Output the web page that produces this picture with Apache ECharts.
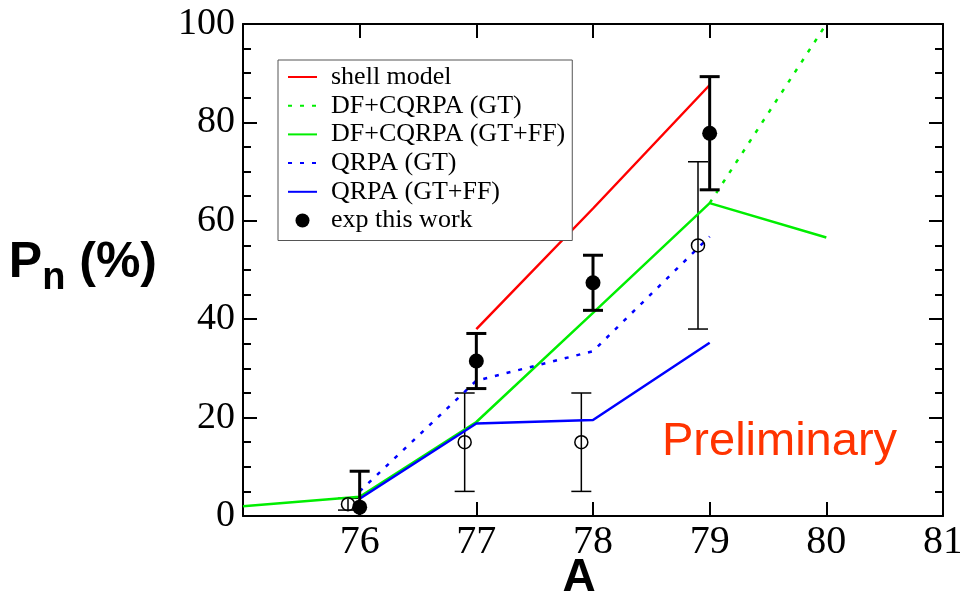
<!DOCTYPE html>
<html>
<head>
<meta charset="utf-8">
<title>Pn vs A</title>
<script src="https://cdn.jsdelivr.net/npm/echarts@6/dist/echarts.min.js"></script>
<style>
  html, body { margin: 0; padding: 0; background: #fff; }
  #chart { width: 960px; height: 593px; }
</style>
</head>
<body>
<div id="chart"></div>
<script>
// Mass numbers where the calculations are given
const massNumbers = [75, 76, 77, 78, 79, 80];

// Calculated neutron emission probabilities Pn (%)
const shellModel  = [null, null, 38.0, 62.5, 87.6, null];
const dfcqrpaGT   = [null, null, null, null, 63.6, 100];
const dfcqrpaGTFF = [2.0, 3.9, 19.1, 41.3, 63.6, 56.6];
const qrpaGT      = [null, 5.0, 27.5, 33.5, 56.8, null];
const qrpaGTFF    = [null, 3.5, 18.8, 19.5, 35.2, null];

// Measured values, this work
const expA   = [76, 77, 78, 79];
const expPn  = [1.8, 31.5, 47.4, 77.8];
const expErr = [7.3, 5.6, 5.6, 11.5];

// Earlier measurements (open circles)
const prevA   = [75.9, 76.9, 77.9, 78.9];
const prevPn  = [2.4, 15.0, 15.0, 55.0];
const prevErr = [1.2, 10.0, 10.0, 17.0];

// Axis ticks
const xTicks = [75, 76, 77, 78, 79, 80, 81];
const yTicks = [0, 20, 40, 60, 80, 100];

function pairs(xs, ys) {
  return xs.map((x, i) => [x, ys[i]]).filter(p => p[1] !== null);
}
function errRows(xs, ys, es) {
  return xs.map((x, i) => [x, ys[i], ys[i] - es[i], ys[i] + es[i]]);
}
function errorBarRenderer(width) {
  return function (params, api) {
    const x = api.value(0);
    const lo = api.coord([x, api.value(2)]);
    const hi = api.coord([x, api.value(3)]);
    const half = 10;
    const style = { stroke: '#000', lineWidth: width };
    return {
      type: 'group',
      children: [
        { type: 'line', shape: { x1: lo[0], y1: lo[1], x2: hi[0], y2: hi[1] }, style: style },
        { type: 'line', shape: { x1: hi[0] - half, y1: hi[1], x2: hi[0] + half, y2: hi[1] }, style: style },
        { type: 'line', shape: { x1: lo[0] - half, y1: lo[1], x2: lo[0] + half, y2: lo[1] }, style: style }
      ]
    };
  };
}

const serif = 'Liberation Serif';
const sans = 'Liberation Sans';
const dotted = [4, 8];

const chart = echarts.init(document.getElementById('chart'), null, { renderer: 'canvas' });

const axisLineStyle = { color: '#000', width: 2 };
const lineOnlyIcon = { itemStyle: { opacity: 0 } };

const option = {
  animation: false,
  backgroundColor: '#fff',
  grid: { left: 243, right: 17, top: 24, bottom: 77, containLabel: false, outerBoundsMode: 'none' },
  legend: {
    left: 278,
    top: 60,
    orient: 'vertical',
    padding: [4, 7, 7, 9],
    itemGap: 2.7,
    itemWidth: 29,
    itemHeight: 14,
    borderColor: '#555',
    borderWidth: 1,
    backgroundColor: '#fff',
    textStyle: { fontFamily: serif, fontSize: 26, color: '#000', lineHeight: 26, padding: [0, 0, 0, 9] },
    data: [
      Object.assign({ name: 'shell model' }, lineOnlyIcon),
      Object.assign({ name: 'DF+CQRPA (GT)' }, lineOnlyIcon),
      Object.assign({ name: 'DF+CQRPA (GT+FF)' }, lineOnlyIcon),
      Object.assign({ name: 'QRPA (GT)' }, lineOnlyIcon),
      Object.assign({ name: 'QRPA (GT+FF)' }, lineOnlyIcon),
      { name: 'exp this work' }
    ]
  },
  xAxis: [
    {
      type: 'value', position: 'bottom', min: xTicks[0], max: xTicks[xTicks.length - 1], interval: 1,
      axisLine: { onZero: false, lineStyle: axisLineStyle },
      axisTick: { inside: true, length: 14, lineStyle: axisLineStyle },
      splitLine: { show: false },
      axisLabel: {
        fontFamily: serif, fontSize: 40, color: '#000', margin: 6,
        formatter: v => (v === xTicks[0] ? '' : String(v))
      },
      name: 'A',
      nameLocation: 'middle',
      nameGap: 39,
      nameMoveOverlap: false,
      nameTextStyle: { fontFamily: sans, fontWeight: 'bold', fontSize: 46, color: '#000', padding: [0, 28, 0, 0] }
    },
    {
      type: 'value', position: 'top', min: xTicks[0], max: xTicks[xTicks.length - 1], interval: 1,
      axisLine: { onZero: false, lineStyle: axisLineStyle },
      axisTick: { inside: true, length: 14, lineStyle: axisLineStyle },
      splitLine: { show: false },
      axisLabel: { show: false }
    }
  ],
  yAxis: [
    {
      type: 'value', position: 'left', min: yTicks[0], max: yTicks[yTicks.length - 1], interval: 20,
      axisLine: { onZero: false, lineStyle: axisLineStyle },
      axisTick: { inside: true, length: 14, lineStyle: axisLineStyle },
      minorTick: { show: true, splitNumber: 4, length: 8, lineStyle: axisLineStyle },
      splitLine: { show: false },
      axisLabel: { fontFamily: serif, fontSize: 38, color: '#000', margin: 8 },
      name: '{p|P}{n|n}{q| (%)}',
      nameLocation: 'middle',
      nameRotate: 0,
      nameGap: 86,
      nameMoveOverlap: false,
      nameTextStyle: {
        align: 'right',
        padding: [0, 0, 8, 0],
        rich: {
          p: { fontFamily: sans, fontWeight: 'bold', fontSize: 50, color: '#000', lineHeight: 56, verticalAlign: 'top' },
          n: { fontFamily: sans, fontWeight: 'bold', fontSize: 38, color: '#000', lineHeight: 38, verticalAlign: 'top', padding: [22, 0, 0, 0] },
          q: { fontFamily: sans, fontWeight: 'bold', fontSize: 50, color: '#000', lineHeight: 56, verticalAlign: 'top' }
        }
      }
    },
    {
      type: 'value', position: 'right', min: yTicks[0], max: yTicks[yTicks.length - 1], interval: 20,
      axisLine: { onZero: false, lineStyle: axisLineStyle },
      axisTick: { inside: true, length: 14, lineStyle: axisLineStyle },
      minorTick: { show: true, splitNumber: 4, length: 8, lineStyle: axisLineStyle },
      splitLine: { show: false },
      axisLabel: { show: false }
    }
  ],
  graphic: [
    {
      type: 'text',
      left: 662,
      top: 419,
      style: { text: 'Preliminary', fill: '#ff3300', font: '47px "Liberation Sans"' }
    }
  ],
  series: [
    {
      name: 'shell model', type: 'line', symbol: 'none', showSymbol: false,
      lineStyle: { color: '#ff0000', width: 2.5 }, itemStyle: { color: '#ff0000' },
      data: pairs(massNumbers, shellModel)
    },
    {
      name: 'DF+CQRPA (GT)', type: 'line', symbol: 'none', showSymbol: false,
      lineStyle: { color: '#00ee00', width: 2.5, type: dotted }, itemStyle: { color: '#00ee00' },
      data: pairs(massNumbers, dfcqrpaGT)
    },
    {
      name: 'DF+CQRPA (GT+FF)', type: 'line', symbol: 'none', showSymbol: false,
      lineStyle: { color: '#00ee00', width: 2.5 }, itemStyle: { color: '#00ee00' },
      data: pairs(massNumbers, dfcqrpaGTFF)
    },
    {
      name: 'QRPA (GT)', type: 'line', symbol: 'none', showSymbol: false,
      lineStyle: { color: '#0000ff', width: 2.5, type: dotted }, itemStyle: { color: '#0000ff' },
      data: pairs(massNumbers, qrpaGT)
    },
    {
      name: 'QRPA (GT+FF)', type: 'line', symbol: 'none', showSymbol: false,
      lineStyle: { color: '#0000ff', width: 2.5 }, itemStyle: { color: '#0000ff' },
      data: pairs(massNumbers, qrpaGTFF)
    },
    {
      name: 'earlier data errors', type: 'custom', clip: true,
      renderItem: errorBarRenderer(1.5),
      encode: { x: 0, y: [1, 2, 3] },
      data: errRows(prevA, prevPn, prevErr), z: 3
    },
    {
      name: 'earlier data', type: 'scatter', symbol: 'circle', symbolSize: 13,
      itemStyle: { color: 'rgba(255,255,255,0)', borderColor: '#000', borderWidth: 1.5, opacity: 1 },
      data: pairs(prevA, prevPn), z: 4
    },
    {
      name: 'exp errors', type: 'custom', clip: true,
      renderItem: errorBarRenderer(3),
      encode: { x: 0, y: [1, 2, 3] },
      data: errRows(expA, expPn, expErr), z: 5
    },
    {
      name: 'exp this work', type: 'scatter', symbol: 'circle', symbolSize: 15,
      itemStyle: { color: '#000', opacity: 1 },
      data: pairs(expA, expPn), z: 6
    }
  ]
};

chart.setOption(option);
</script>
</body>
</html>
